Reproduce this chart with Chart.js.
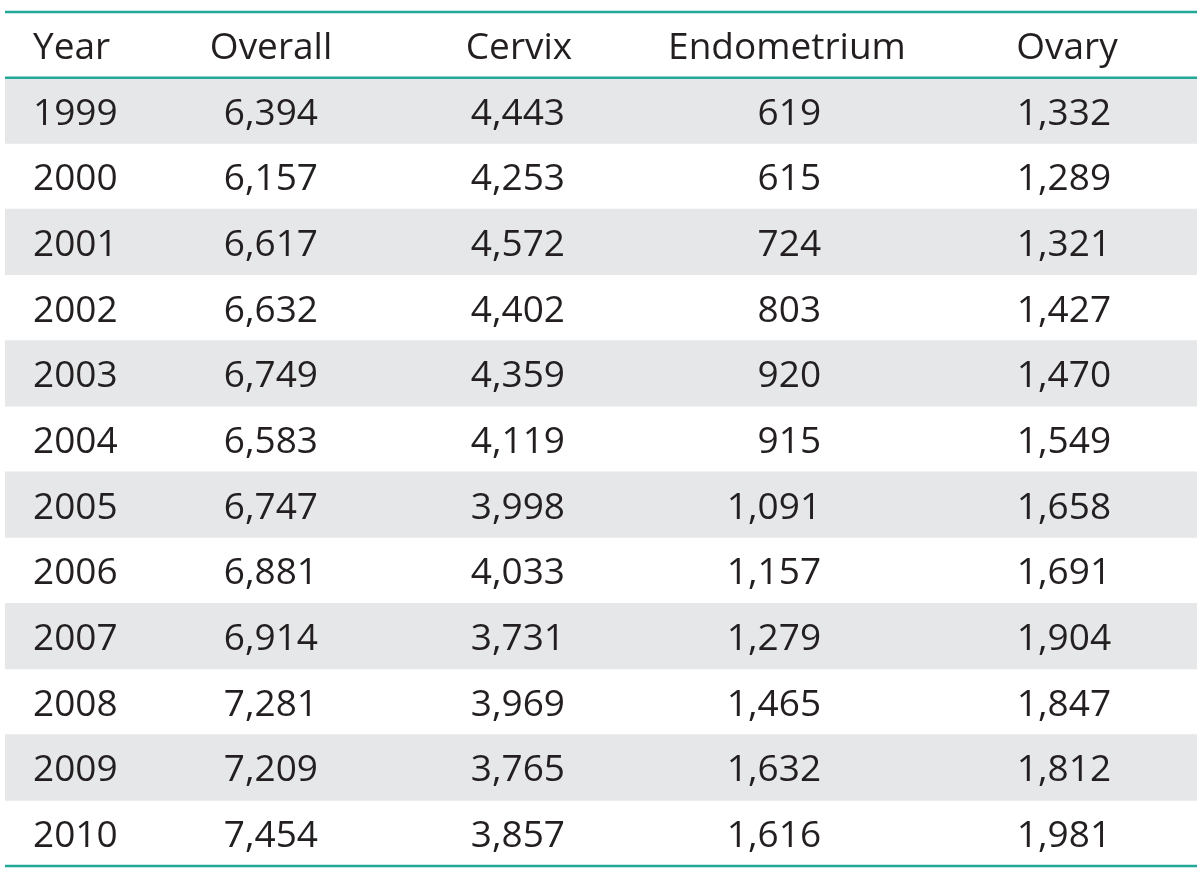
<!DOCTYPE html>
<html>
<head>
<meta charset="utf-8">
<script src="https://cdn.jsdelivr.net/npm/chart.js@4"></script>
<style>
  html, body { margin: 0; padding: 0; background: #ffffff; }
  #wrap { width: 1200px; height: 880px; position: relative; }
</style>
</head>
<body>
<div id="wrap"><canvas id="tableChart"></canvas></div>
<script>
  // Datos de la tabla
  const headers = ['Year', 'Overall', 'Cervix', 'Endometrium', 'Ovary'];
  const years = ['1999','2000','2001','2002','2003','2004','2005','2006','2007','2008','2009','2010'];
  const overall = [6394, 6157, 6617, 6632, 6749, 6583, 6747, 6881, 6914, 7281, 7209, 7454];
  const cervix = [4443, 4253, 4572, 4402, 4359, 4119, 3998, 4033, 3731, 3969, 3765, 3857];
  const endometrium = [619, 615, 724, 803, 920, 915, 1091, 1157, 1279, 1465, 1632, 1616];
  const ovary = [1332, 1289, 1321, 1427, 1470, 1549, 1658, 1691, 1904, 1847, 1812, 1981];

  const seriesCols = [overall, cervix, endometrium, ovary];

  // Layout (fracciones del ancho del area)
  const yearLeft = 0.0235;
  const numRight = [0.2626, 0.4698, 0.6846, 0.9279];
  const headCenter = [0.2232, 0.4312, 0.6560, 0.8909];

  const TEXT = '#231f20';
  const STRIPE = '#e6e7e8';
  const RULE = '#23a898';
  const FONT = '37px "Open Sans", "Noto Sans", sans-serif';

  // fila 0 = encabezado
  const rowLabels = [headers[0]].concat(years);
  const stripes = rowLabels.map((_, i) => (i % 2 === 1 ? [0, 1] : null));

  const fmt = v => v.toLocaleString('en-US');

  const tablePlugin = {
    id: 'tableText',
    afterDatasetsDraw(chart) {
      const ctx = chart.ctx;
      const xs = chart.scales.x;
      const ys = chart.scales.y;
      const area = chart.chartArea;
      const band = (ys.getPixelForValue(1) - ys.getPixelForValue(0));
      ctx.save();
      // lineas
      ctx.strokeStyle = RULE;
      ctx.lineWidth = 2.5;
      const headLine = ys.getPixelForValue(0) + band / 2;
      [area.top, headLine, area.bottom].forEach(y => {
        ctx.beginPath();
        ctx.moveTo(area.left, y);
        ctx.lineTo(area.right, y);
        ctx.stroke();
      });
      // texto
      ctx.fillStyle = TEXT;
      ctx.font = FONT;
      ctx.textBaseline = 'alphabetic';
      const off = 14;
      // encabezado
      let y0 = ys.getPixelForValue(0) + off;
      ctx.textAlign = 'left';
      ctx.fillText(headers[0], xs.getPixelForValue(yearLeft), y0);
      ctx.textAlign = 'center';
      for (let c = 0; c < 4; c++) {
        ctx.fillText(headers[c + 1], xs.getPixelForValue(headCenter[c]), y0);
      }
      // filas
      years.forEach((yr, i) => {
        const y = ys.getPixelForValue(i + 1) + off;
        ctx.textAlign = 'left';
        ctx.fillText(yr, xs.getPixelForValue(yearLeft), y);
        ctx.textAlign = 'right';
        seriesCols.forEach((col, c) => {
          ctx.fillText(fmt(col[i]), xs.getPixelForValue(numRight[c]), y);
        });
      });
      ctx.restore();
    }
  };

  function draw() {
    new Chart(document.getElementById('tableChart'), {
      type: 'bar',
      data: {
        labels: rowLabels,
        datasets: [{
          data: stripes,
          backgroundColor: STRIPE,
          borderWidth: 0,
          barPercentage: 1,
          categoryPercentage: 1
        }]
      },
      options: {
        indexAxis: 'y',
        responsive: true,
        maintainAspectRatio: false,
        animation: false,
        layout: { padding: { top: 12, bottom: 14, left: 5, right: 3 } },
        scales: {
          x: { type: 'linear', min: 0, max: 1, display: false },
          y: { type: 'category', display: false, offset: true }
        },
        plugins: { legend: { display: false }, tooltip: { enabled: false } }
      },
      plugins: [tablePlugin]
    });
  }

  if (document.fonts && document.fonts.load) {
    document.fonts.load(FONT).then(draw, draw);
  } else {
    draw();
  }
</script>
</body>
</html>
